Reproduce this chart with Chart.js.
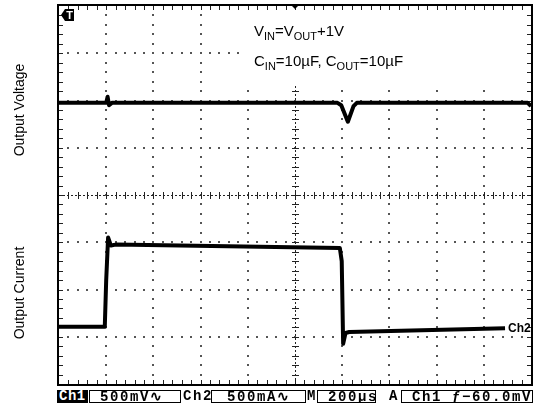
<!DOCTYPE html>
<html>
<head>
<meta charset="utf-8">
<script src="https://cdn.jsdelivr.net/npm/chart.js@4.4.0/dist/chart.umd.min.js"></script>
<style>
  body { margin: 0; background: #fff; }
  #wrap { position: relative; width: 534px; height: 407px; overflow: hidden; font-family: "Liberation Sans", Arial, sans-serif; }
  canvas { position: absolute; left: 0; top: 0; }
  .ylab { position: absolute; font-size: 14px; white-space: nowrap; transform: translate(-50%, -50%) rotate(-90deg); }
  .note { position: absolute; left: 254px; font-size: 15px; line-height: 17px; white-space: nowrap; }
  .note sub { font-size: 11px; vertical-align: -4px; line-height: 0; }
  .bar { position: absolute; top: 390px; height: 13px; font-family: "Liberation Mono", "DejaVu Sans Mono", monospace; font-weight: bold; font-size: 14px; line-height: 13px; letter-spacing: 1.6px; white-space: nowrap; box-sizing: border-box; overflow: hidden; }
  .box { border: 1.5px solid #000; padding-left: 10px; }
  .inv { background: #000; color: #fff; padding-left: 2px; letter-spacing: 0.5px; }
  .ch2 { position: absolute; left: 508px; top: 321px; font-size: 12px; font-weight: bold; }
</style>
</head>
<body>
<div id="wrap">
  <canvas id="scope" width="534" height="407"></canvas>
  <div class="ylab" style="left:19px; top:110px;">Output Voltage</div>
  <div class="ylab" style="left:19px; top:293px;">Output Current</div>
  <div class="note" style="top:22px;">V<sub>IN</sub>=V<sub>OUT</sub>+1V</div>
  <div class="note" style="top:52px;">C<sub>IN</sub>=10µF, C<sub>OUT</sub>=10µF</div>
  <div class="ch2">Ch2</div>
  <div class="bar inv" style="left:57px; width:31px;">Ch1</div>
  <div class="bar box" style="left:89px; width:92px;">500mV∿</div>
  <div class="bar" style="left:183px; width:29px;">Ch2</div>
  <div class="bar box" style="left:211px; width:95px; padding-left:15px;">500mA∿</div>
  <div class="bar" style="left:307px; width:12px;">M</div>
  <div class="bar box" style="left:317px; width:59px;">200µs</div>
  <div class="bar" style="left:389px; width:12px;">A</div>
  <div class="bar box" style="left:401px; width:132px;">Ch1 ƒ−60.0mV</div>
</div>
<script>
// time axis in divisions (200 µs/div), level in divisions (8 vertical)
const voltX = [0, 1.0, 1.03, 1.06, 1.12, 5.9, 5.98, 6.12, 6.24, 6.31, 9.93, 10];
const voltY = [5.95, 5.95, 6.08, 5.9, 5.95, 5.95, 5.9, 5.55, 5.88, 5.95, 5.95, 5.88];

const curX = [0, 0.97, 1.0, 1.04, 1.1, 1.2, 5.95, 5.99, 6.02, 6.07, 6.15, 9.45];
const curY = [1.21, 1.21, 2.2, 3.1, 2.93, 2.95, 2.88, 2.6, 0.85, 1.08, 1.1, 1.18];

const X_DIVS = 10;
const Y_DIVS = 8;

function toPoints(xs, ys) {
  return xs.map((x, i) => ({ x: x, y: ys[i] }));
}

// oscilloscope graticule: dotted grid, center cross with ticks, border ticks
const graticule = {
  id: 'graticule',
  beforeDatasetsDraw(chart) {
    const { ctx, chartArea: a, scales: { x, y } } = chart;
    ctx.save();
    ctx.fillStyle = '#555';
    for (let i = 1; i < X_DIVS; i++) {
      if (i === X_DIVS / 2) continue;
      const px = x.getPixelForValue(i);
      for (let k = 1; k < Y_DIVS * 5; k++) {
        ctx.fillRect(Math.round(px) - 1, Math.round(y.getPixelForValue(k / 5)) - 1, 2, 2);
      }
    }
    for (let j = 1; j < Y_DIVS; j++) {
      if (j === Y_DIVS / 2) continue;
      const py = y.getPixelForValue(j);
      for (let k = 1; k < X_DIVS * 5; k++) {
        ctx.fillRect(Math.round(x.getPixelForValue(k / 5)) - 1, Math.round(py) - 1, 2, 2);
      }
    }
    // center cross
    const cx = Math.round(x.getPixelForValue(X_DIVS / 2));
    const cy = Math.round(y.getPixelForValue(Y_DIVS / 2));
    ctx.strokeStyle = '#222';
    ctx.lineWidth = 1;
    ctx.setLineDash([2, 2]);
    ctx.beginPath();
    ctx.moveTo(a.left, cy + 0.5); ctx.lineTo(a.right, cy + 0.5);
    ctx.moveTo(cx + 0.5, a.top); ctx.lineTo(cx + 0.5, a.bottom);
    ctx.stroke();
    ctx.setLineDash([]);
    ctx.beginPath();
    for (let k = 1; k < Y_DIVS * 5; k++) {
      const py = Math.round(y.getPixelForValue(k / 5)) + 0.5;
      ctx.moveTo(cx - 3, py); ctx.lineTo(cx + 4, py);
    }
    for (let k = 1; k < X_DIVS * 5; k++) {
      const px = Math.round(x.getPixelForValue(k / 5)) + 0.5;
      ctx.moveTo(px, cy - 3); ctx.lineTo(px, cy + 4);
    }
    ctx.stroke();
    // blank panel behind the test-condition notes
    ctx.fillStyle = '#fff';
    const nx = Math.round(x.getPixelForValue(3.85));
    const ny = Math.round(y.getPixelForValue(6.3));
    ctx.fillRect(nx, a.top + 4, a.right - 4 - nx, ny - a.top - 4);
    // border ticks
    ctx.strokeStyle = '#222';
    ctx.beginPath();
    for (let k = 1; k < X_DIVS * 5; k++) {
      const px = Math.round(x.getPixelForValue(k / 5)) + 0.5;
      ctx.moveTo(px, a.top); ctx.lineTo(px, a.top + 4);
      ctx.moveTo(px, a.bottom); ctx.lineTo(px, a.bottom - 4);
    }
    for (let k = 1; k < Y_DIVS * 5; k++) {
      const py = Math.round(y.getPixelForValue(k / 5)) + 0.5;
      ctx.moveTo(a.left, py); ctx.lineTo(a.left + 4, py);
      ctx.moveTo(a.right, py); ctx.lineTo(a.right - 4, py);
    }
    ctx.stroke();
    // frame
    ctx.lineWidth = 2;
    ctx.strokeStyle = '#000';
    ctx.strokeRect(a.left - 1, a.top - 1, a.right - a.left + 2, a.bottom - a.top + 2);
    // trigger position marker (top centre)
    ctx.fillStyle = '#000';
    ctx.beginPath();
    ctx.moveTo(cx - 4, a.top - 1); ctx.lineTo(cx + 4, a.top - 1); ctx.lineTo(cx, a.top + 3);
    ctx.closePath();
    ctx.fill();
    // trigger "T" flag
    const tx = a.left + 2, ty = a.top + 3;
    ctx.beginPath();
    ctx.moveTo(tx, ty + 6); ctx.lineTo(tx + 4, ty); ctx.lineTo(tx + 13, ty);
    ctx.lineTo(tx + 13, ty + 12); ctx.lineTo(tx + 4, ty + 12);
    ctx.closePath();
    ctx.fill();
    ctx.fillStyle = '#fff';
    ctx.font = 'bold 11px "Liberation Sans", Arial, sans-serif';
    ctx.textAlign = 'center';
    ctx.textBaseline = 'middle';
    ctx.fillText('T', tx + 8.5, ty + 6.5);
    ctx.restore();
  }
};

new Chart(document.getElementById('scope'), {
  type: 'line',
  data: {
    datasets: [
      {
        label: 'Output Voltage',
        data: toPoints(voltX, voltY),
        borderColor: '#000',
        borderWidth: 4,
        borderJoinStyle: 'round',
        borderCapStyle: 'butt',
        pointRadius: 0,
        tension: 0
      },
      {
        label: 'Output Current',
        data: toPoints(curX, curY),
        borderColor: '#000',
        borderWidth: 4,
        borderJoinStyle: 'round',
        borderCapStyle: 'butt',
        pointRadius: 0,
        tension: 0
      }
    ]
  },
  options: {
    responsive: false,
    animation: false,
    layout: { padding: { left: 59, top: 6, right: 3, bottom: 23 } },
    plugins: { legend: { display: false }, tooltip: { enabled: false } },
    scales: {
      x: { type: 'linear', min: 0, max: X_DIVS, display: false },
      y: { type: 'linear', min: 0, max: Y_DIVS, display: false }
    }
  },
  plugins: [graticule]
});
</script>
</body>
</html>
